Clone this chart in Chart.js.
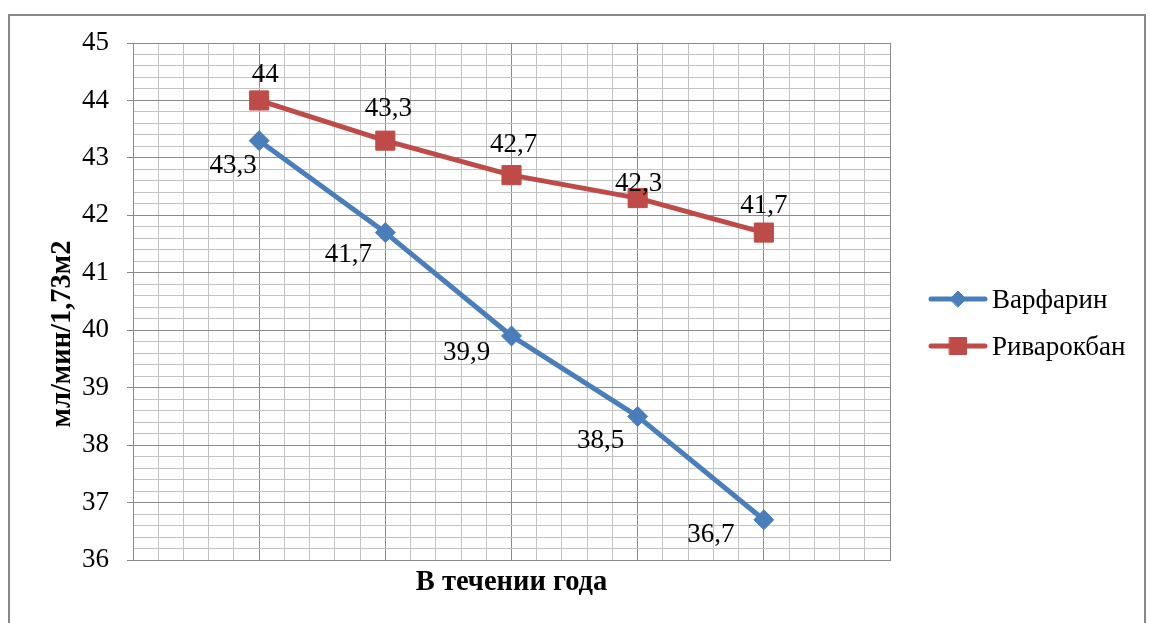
<!DOCTYPE html>
<html>
<head>
<meta charset="utf-8">
<script src="https://cdn.jsdelivr.net/npm/chart.js@4.4.1/dist/chart.umd.min.js"></script>
<style>
  html, body { margin: 0; padding: 0; background: #ffffff; }
  canvas { display: block; }
</style>
</head>
<body>
<canvas id="chart" width="1150" height="623"></canvas>
<script>
// Measurement points over the year (x positions on the linear axis)
const periods = [1, 2, 3, 4, 5];
// eGFR values, мл/мин/1,73м2
const warfarin = [43.3, 41.7, 39.9, 38.5, 36.7];
const rivaroxaban = [44, 43.3, 42.7, 42.3, 41.7];
const seriesNames = ['Варфарин', 'Риварокбан'];
// Y axis range (labelled at every whole number)
const yMin = 36;
const yMax = 45;
const xTitle = 'В течении года';
const yTitle = 'мл/мин/1,73м2';

const BLUE = '#4A7EBB';
const RED = '#BE4B48';
const GRID_MAJOR = '#8a8a8a';
const GRID_MINOR = '#c2c2c2';
const FONT = '"Liberation Serif", "Times New Roman", serif';

const isWhole = v => Math.abs(v - Math.round(v)) < 1e-6;
const fmt = v => String(v).replace('.', ',');

// Label placement relative to each point (centre of the text)
const labelOffsets = [
  [[-26, 23], [-37, 20], [-45, 15], [-37, 23], [-53, 13]],
  [[6, -27], [3, -34], [2, -32], [1, -16], [0, -29]]
];

const decor = {
  id: 'decor',
  beforeDraw(chart) {
    const ctx = chart.ctx;
    ctx.save();
    ctx.fillStyle = '#ffffff';
    ctx.fillRect(0, 0, chart.width, chart.height);
    ctx.strokeStyle = '#878787';
    ctx.lineWidth = 2;
    ctx.strokeRect(9, 15, 1136, 640);
    ctx.restore();
  },
  afterDatasetsDraw(chart) {
    const ctx = chart.ctx;
    ctx.save();
    ctx.font = '27px ' + FONT;
    ctx.fillStyle = '#000000';
    ctx.textAlign = 'center';
    ctx.textBaseline = 'alphabetic';
    chart.data.datasets.forEach((ds, di) => {
      const meta = chart.getDatasetMeta(di);
      meta.data.forEach((pt, i) => {
        const off = labelOffsets[di][i];
        ctx.fillText(fmt(ds.data[i].y), pt.x + off[0], pt.y + off[1] + 9);
      });
    });
    ctx.restore();
  },
  afterDraw(chart) {
    const ctx = chart.ctx;
    const area = chart.chartArea;
    ctx.save();
    // axis titles
    ctx.fillStyle = '#000000';
    ctx.font = 'bold 28.5px ' + FONT;
    ctx.textAlign = 'center';
    ctx.textBaseline = 'alphabetic';
    ctx.fillText(xTitle, (area.left + area.right) / 2, 590);
    ctx.save();
    ctx.translate(70, 334);
    ctx.rotate(-Math.PI / 2);
    ctx.fillText(yTitle, 0, 0);
    ctx.restore();

    // legend
    const rows = [299, 346];
    chart.data.datasets.forEach((ds, di) => {
      const y = rows[di];
      ctx.strokeStyle = ds.borderColor;
      ctx.lineWidth = ds.borderWidth;
      ctx.lineCap = 'round';
      ctx.beginPath();
      ctx.moveTo(931, y);
      ctx.lineTo(985, y);
      ctx.stroke();
      ctx.fillStyle = ds.pointBackgroundColor;
      ctx.strokeStyle = ds.pointBorderColor;
      ctx.lineWidth = 1;
      Chart.helpers.drawPoint(ctx, {
        pointStyle: ds.pointStyle,
        radius: di === 0 ? 8 : 12,
        rotation: 0,
        borderWidth: 1
      }, 958, y);
      ctx.fillStyle = '#000000';
      ctx.font = '27px ' + FONT;
      ctx.textAlign = 'left';
      ctx.fillText(ds.label, 992, y + 9);
    });
    ctx.restore();
  }
};

const toPoints = arr => arr.map((v, i) => ({ x: periods[i], y: v }));

new Chart(document.getElementById('chart'), {
  type: 'line',
  data: {
    datasets: [
      {
        label: seriesNames[0],
        data: toPoints(warfarin),
        borderColor: BLUE,
        backgroundColor: BLUE,
        borderWidth: 5,
        pointStyle: 'rectRot',
        pointRadius: 10,
        pointHoverRadius: 10,
        pointBackgroundColor: BLUE,
        pointBorderColor: BLUE,
        pointBorderWidth: 1,
        borderJoinStyle: 'round',
        tension: 0
      },
      {
        label: seriesNames[1],
        data: toPoints(rivaroxaban),
        borderColor: RED,
        backgroundColor: RED,
        borderWidth: 5,
        pointStyle: 'rect',
        pointRadius: 13.5,
        pointHoverRadius: 13.5,
        pointBackgroundColor: RED,
        pointBorderColor: RED,
        pointBorderWidth: 1,
        borderJoinStyle: 'round',
        tension: 0
      }
    ]
  },
  options: {
    responsive: false,
    animation: false,
    devicePixelRatio: 1,
    layout: { padding: { left: 0, right: 260, top: 43, bottom: 63 } },
    plugins: {
      legend: { display: false },
      tooltip: { enabled: false },
      title: { display: false }
    },
    scales: {
      x: {
        type: 'linear',
        min: 0,
        max: periods.length + 1,
        ticks: { display: false, stepSize: 0.2, autoSkip: false },
        grid: {
          drawTicks: false,
          lineWidth: 1,
          color: c => isWhole(c.tick.value) ? GRID_MAJOR : GRID_MINOR
        },
        border: { display: true, color: GRID_MAJOR, width: 1 },
        afterFit: s => { s.height = 0; }
      },
      y: {
        type: 'linear',
        min: yMin,
        max: yMax,
        ticks: {
          stepSize: 0.2,
          autoSkip: false,
          padding: 18,
          color: '#000000',
          font: { family: FONT, size: 27 },
          callback: v => isWhole(v) ? String(Math.round(v)) : ''
        },
        grid: {
          lineWidth: 1,
          tickLength: 6,
          color: c => isWhole(c.tick.value) ? GRID_MAJOR : GRID_MINOR,
          tickColor: c => isWhole(c.tick.value) ? GRID_MAJOR : 'rgba(0,0,0,0)'
        },
        border: { display: true, color: GRID_MAJOR, width: 1 },
        afterFit: s => { s.width = 133; }
      }
    }
  },
  plugins: [decor]
});
</script>
</body>
</html>
